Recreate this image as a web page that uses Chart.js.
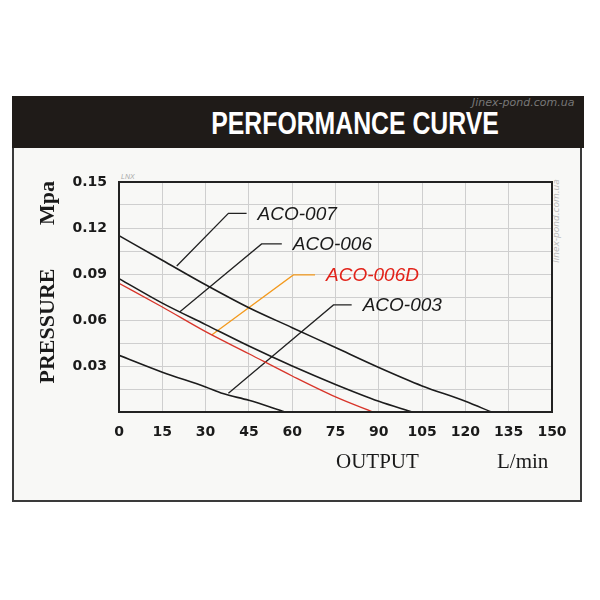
<!DOCTYPE html>
<html>
<head>
<meta charset="utf-8">
<script src="https://cdn.jsdelivr.net/npm/chart.js@4.4.1/dist/chart.umd.min.js"></script>
<style>
body{margin:0;background:#fff;}
#wrap{position:relative;width:600px;height:600px;overflow:hidden;}
#box{position:absolute;left:12px;top:96px;width:566px;height:402px;border:2px solid #3a3a3a;background:#f8f8f6;}
#head{position:absolute;left:12px;top:96px;width:572px;height:52px;background:#1f1b18;}
#title{position:absolute;left:355px;top:108px;white-space:nowrap;transform:translateX(-50%) scaleX(0.8);
  font-family:"Liberation Sans",sans-serif;font-weight:bold;font-size:31px;color:#fff;line-height:1;}
#wm1{position:absolute;left:472px;top:96px;font-family:"DejaVu Sans";font-style:italic;font-size:11px;color:#777;}
#wm2{position:absolute;left:514px;top:216px;transform:rotate(-90deg);font-family:"DejaVu Sans";font-style:italic;font-size:9px;color:#bbb;}
#wm3{position:absolute;left:121px;top:173px;font-family:"Liberation Sans";font-style:italic;font-size:7px;color:#aaa;}
canvas{position:absolute;left:0;top:0;}
</style>
</head>
<body>
<div id="wrap">
  <div id="box"></div>
  <div id="head"></div>
  <div id="title">PERFORMANCE CURVE</div>
  <div id="wm1">Jinex-pond.com.ua</div>
  <div id="wm2">linex-pond.com.ua</div>
  <div id="wm3">LNX</div>
  <canvas id="perf" width="600" height="600"></canvas>
</div>
<script>
// output (L/min) grid / ticks
var outputTicks = [0, 15, 30, 45, 60, 75, 90, 105, 120, 135, 150];
// pressure (Mpa) grid lines every 0.015, labels every 0.03
var pressureGrid = [0, 0.015, 0.03, 0.045, 0.06, 0.075, 0.09, 0.105, 0.12, 0.135, 0.15];
var pressureLabels = ['', '', '0.03', '', '0.06', '', '0.09', '', '0.12', '', '0.15'];

// curves
var aco007X = [0, 15, 30, 45, 60, 75, 90, 105, 120, 129];
var aco007Y = [0.115, 0.099, 0.083, 0.068, 0.055, 0.042, 0.029, 0.017, 0.007, 0];
var aco006X = [0, 15, 30, 45, 60, 75, 90, 101.5];
var aco006Y = [0.087, 0.071, 0.057, 0.043, 0.03, 0.018, 0.007, 0];
var aco006dX = [0, 15, 30, 45, 60, 75, 88];
var aco006dY = [0.084, 0.0685, 0.0524, 0.038, 0.0235, 0.0099, 0];
var aco003X = [0, 15, 30, 36, 45, 57.5];
var aco003Y = [0.037, 0.026, 0.0163, 0.012, 0.0076, 0];

// leader lines: start on curve, elbow, end of horizontal
var labelNames = ['ACO-007', 'ACO-006', 'ACO-006D', 'ACO-003'];
var leaderX = [[20, 37.9, 44.2], [21.1, 49.4, 56.4], [32.1, 60.4, 67.9], [37.9, 74.3, 80.6]];
var leaderY = [[0.0952, 0.1296, 0.1296], [0.0654, 0.1096, 0.1096], [0.0502, 0.0894, 0.0894], [0.0122, 0.0698, 0.0698]];
var labelColors = ['#1a1a1a', '#1a1a1a', '#e2231a', '#1a1a1a'];
var leaderColors = ['#222', '#222', '#f39a1e', '#222'];

function pts(xs, ys) {
    return xs.map(function (x, i) { return {x: x, y: ys[i]}; });
}

var curveStyle = {showLine: true, pointRadius: 0, borderWidth: 1.6, cubicInterpolationMode: 'monotone', fill: false};
var datasets = [
    Object.assign({label: 'ACO-007', data: pts(aco007X, aco007Y), borderColor: '#1c1c1c'}, curveStyle),
    Object.assign({label: 'ACO-006', data: pts(aco006X, aco006Y), borderColor: '#1c1c1c'}, curveStyle),
    Object.assign({label: 'ACO-006D', data: pts(aco006dX, aco006dY), borderColor: '#d8352a', borderWidth: 1.3}, {showLine: true, pointRadius: 0, cubicInterpolationMode: 'monotone', fill: false}),
    Object.assign({label: 'ACO-003', data: pts(aco003X, aco003Y), borderColor: '#1c1c1c'}, curveStyle)
];
leaderX.forEach(function (xs, i) {
    datasets.push({label: 'leader' + i, data: pts(xs, leaderY[i]), showLine: true, pointRadius: 0,
        borderWidth: 1.3, borderColor: leaderColors[i], tension: 0});
});

var decor = {
    id: 'decor',
    afterDatasetsDraw: function (chart) {
        var ctx = chart.ctx, a = chart.chartArea;
        var xs = chart.scales.x, ys = chart.scales.y;
        ctx.save();
        // plot frame
        ctx.strokeStyle = '#222';
        ctx.lineWidth = 2;
        ctx.strokeRect(a.left, a.top, a.right - a.left, a.bottom - a.top);
        // series labels at the end of each leader
        ctx.font = 'italic 19px "Liberation Sans"';
        ctx.textBaseline = 'middle';
        ctx.textAlign = 'left';
        labelNames.forEach(function (n, i) {
            ctx.fillStyle = labelColors[i];
            ctx.fillText(n, xs.getPixelForValue(leaderX[i][2]) + 11, ys.getPixelForValue(leaderY[i][2]) + 1);
        });
        // axis titles
        ctx.fillStyle = '#1a1a1a';
        ctx.font = '21px "Liberation Serif"';
        ctx.textAlign = 'left';
        ctx.fillText('OUTPUT', 336, 462);
        ctx.fillText('L/min', 497, 462);
        ctx.font = 'bold 22px "Liberation Serif"';
        ctx.textAlign = 'center';
        ctx.translate(48, 0);
        ctx.rotate(-Math.PI / 2);
        ctx.fillText('PRESSURE', -326, 0);
        ctx.fillText('Mpa', -203, 0);
        ctx.restore();
    }
};

Chart.defaults.font.family = '"DejaVu Sans", sans-serif';
Chart.defaults.font.size = 14;
Chart.defaults.font.weight = 'bold';
Chart.defaults.color = '#1a1a1a';

var chart = new Chart(document.getElementById('perf'), {
    type: 'scatter',
    data: {datasets: datasets},
    options: {
        responsive: false,
        animation: false,
        layout: {padding: {left: 0, top: 182, right: 48, bottom: 148}},
        plugins: {legend: {display: false}, tooltip: {enabled: false}},
        scales: {
            x: {
                type: 'linear', min: 0, max: 150,
                afterBuildTicks: function (s) { s.ticks = outputTicks.map(function (v) { return {value: v}; }); },
                afterFit: function (s) { s.height = 40; },
                ticks: {padding: 12, color: '#1a1a1a', callback: function (v) { return v; }},
                grid: {color: '#cfcfcf', lineWidth: 1, drawTicks: false},
                border: {display: false}
            },
            y: {
                type: 'linear', min: 0, max: 0.15,
                afterBuildTicks: function (s) { s.ticks = pressureGrid.map(function (v) { return {value: v}; }); },
                afterFit: function (s) { s.width = 119; },
                ticks: {padding: 12, color: '#1a1a1a', callback: function (v, i) { return pressureLabels[i]; }},
                grid: {color: '#cfcfcf', lineWidth: 1, drawTicks: false},
                border: {display: false}
            }
        }
    },
    plugins: [decor]
});
</script>
</body>
</html>
